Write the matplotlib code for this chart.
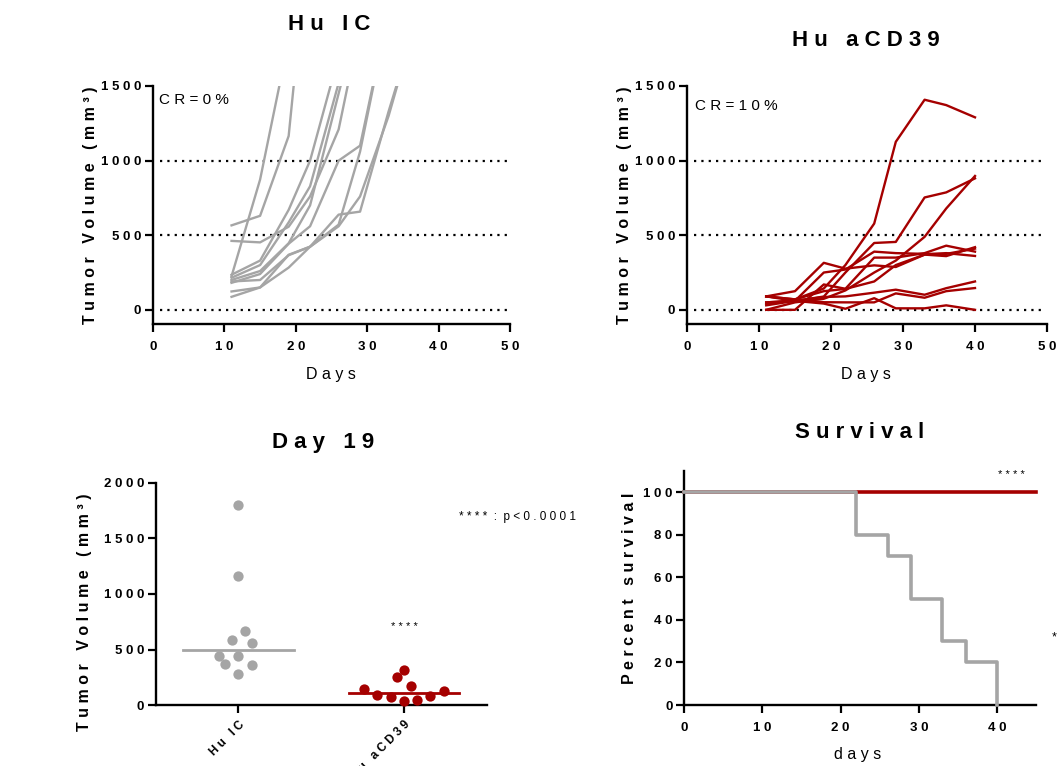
import matplotlib
matplotlib.use('Agg')
import matplotlib.pyplot as plt
from matplotlib.ticker import FixedLocator, FuncFormatter

plt.rcParams['font.family'] = ['Liberation Sans', 'DejaVu Sans']
plt.rcParams['font.weight'] = 'bold'

GRAY = '#a5a5a5'
RED = '#a50000'

W, H = 1059, 766

# ---------------- data ----------------
days = [11, 15, 19, 22, 26, 29, 33, 36, 40]

# Hu IC tumour volumes (mm^3), one list per mouse (curves leave the plot above 1500)
ic_m1 = [566, 630, 1165, 2600]
ic_m2 = [225, 873, 1805]
ic_m3 = [235, 330, 670, 1000, 1700]
ic_m4 = [215, 300, 586, 828, 1520]
ic_m5 = [200, 260, 446, 700, 1450, 2000]
ic_m6 = [462, 452, 557, 760, 1209, 1900]
ic_m7 = [181, 240, 443, 560, 1000, 1100, 2000]
ic_m8 = [123, 150, 369, 423, 571, 1060, 2000]
ic_m9 = [190, 200, 366, 423, 638, 658, 1330, 1800]
ic_m10 = [87, 150, 283, 423, 560, 760, 1300, 1800]
ic_mice = [ic_m1, ic_m2, ic_m3, ic_m4, ic_m5, ic_m6, ic_m7, ic_m8, ic_m9, ic_m10]

# Hu aCD39 tumour volumes (mm^3)
cd_m1 = [40, 70, 143, 300, 578, 1126, 1408, 1372, 1290]
cd_m2 = [30, 60, 89, 250, 448, 455, 753, 787, 881]
cd_m3 = [0, 50, 74, 130, 250, 330, 489, 679, 897]
cd_m4 = [90, 125, 315, 276, 298, 287, 370, 380, 361]
cd_m5 = [50, 60, 250, 270, 390, 380, 375, 375, 410]
cd_m6 = [0, 0, 170, 141, 350, 350, 380, 430, 390]
cd_m7 = [90, 70, 125, 140, 190, 300, 370, 360, 420]
cd_m8 = [50, 60, 86, 90, 115, 135, 101, 145, 190]
cd_m9 = [90, 70, 51, 50, 50, 110, 81, 125, 146]
cd_m10 = [90, 60, 42, 7, 78, 10, 10, 30, 0]
cd_mice = [cd_m1, cd_m2, cd_m3, cd_m4, cd_m5, cd_m6, cd_m7, cd_m8, cd_m9, cd_m10]

# Day 19 scatter
groups = ['Hu IC', 'Hu aCD39']
ic_day19 = [1804, 1164, 670, 586, 557, 446, 443, 369, 366, 283]
ic_jitter = [0, 0, 0.04, -0.04, 0.08, -0.12, 0, -0.08, 0.08, 0]
cd_day19 = [143, 89, 74, 250, 315, 170, 42, 51, 86, 125]
cd_jitter = [-0.24, -0.16, -0.08, -0.04, 0, 0.04, 0, 0.08, 0.16, 0.24]
ic_median = 500
cd_median = 110

# Survival
surv_ic_days = [0, 22, 26, 29, 33, 36, 40]
surv_ic_pct = [100, 80, 70, 50, 30, 20, 0]
surv_cd_days = [0, 45]
surv_cd_pct = [100, 100]

vol_ticks = [0, 500, 1000, 1500]
day_ticks = [0, 10, 20, 30, 40, 50]
d19_ticks = [0, 500, 1000, 1500, 2000]
surv_yticks = [0, 20, 40, 60, 80, 100]
surv_xticks = [0, 10, 20, 30, 40]


def sp(s):
    return ' '.join(s)


def px_axes(fig, x0, x1, y_top, y_bot):
    return fig.add_axes([x0 / W, 1 - y_bot / H, (x1 - x0) / W, (y_bot - y_top) / H])


def ftext(fig, x, y, s, **kw):
    fig.text(x / W, 1 - y / H, s, **kw)


spaced_fmt = FuncFormatter(lambda v, p: sp(str(int(round(v)))))


def style(ax):
    for side in ['top', 'right']:
        ax.spines[side].set_visible(False)
    for side in ['left', 'bottom']:
        ax.spines[side].set_linewidth(1.7)
    ax.tick_params(direction='out', length=5.5, width=1.6, labelsize=9.5, pad=3)
    ax.tick_params(axis='x', pad=7)
    ax.set_facecolor('none')


fig = plt.figure(figsize=(W / 100, H / 100), dpi=100)

# ---------------- top panels ----------------
for (x0, x1, mice, color, cr, crpos, title, tpos, ylab_x, xl_x) in [
        (153, 510, ic_mice, GRAY, 'CR=0%', (159, 100), 'Hu IC', (329, 24), 90, 331),
        (687, 1047, cd_mice, RED, 'CR=10%', (695, 106), 'Hu aCD39', (866, 40), 625, 866)]:
    ax = px_axes(fig, x0, x1, 86, 324)
    style(ax)
    for yv in [0, 500, 1000]:
        ax.axhline(yv, xmin=0.02, xmax=0.995, color='black', lw=1.6,
                   ls=(0, (1, 2.3)), zorder=1)
    for m in mice:
        ax.plot(days[:len(m)], m, color=color, lw=1.7, zorder=2)
    ax.set_xlim(0, 50)
    ax.set_ylim(-95, 1500)
    ax.xaxis.set_major_locator(FixedLocator(day_ticks))
    ax.yaxis.set_major_locator(FixedLocator(vol_ticks))
    ax.xaxis.set_major_formatter(spaced_fmt)
    ax.yaxis.set_major_formatter(spaced_fmt)
    ftext(fig, crpos[0], crpos[1], sp(cr), fontsize=11, fontweight='normal',
          ha='left', va='center')
    ftext(fig, tpos[0], tpos[1], sp(title), fontsize=16, ha='center', va='center')
    ftext(fig, ylab_x, 205, sp('Tumor Volume (mm³)'), fontsize=11.5, rotation=90,
          ha='center', va='center')
    ftext(fig, xl_x, 375, sp('Days'), fontsize=11.5, fontweight='normal',
          ha='center', va='center')

# ---------------- Day 19 scatter ----------------
ax = px_axes(fig, 155.7, 486.7, 482.7, 705.3)
style(ax)
ax.scatter([0 + j for j in ic_jitter], ic_day19, s=55, color=GRAY, zorder=3,
           clip_on=False, linewidths=0)
ax.scatter([1 + j for j in cd_jitter], cd_day19, s=55, color=RED, zorder=3,
           clip_on=False, linewidths=0)
ax.plot([-0.335, 0.335], [ic_median, ic_median], color=GRAY, lw=2, zorder=2)
ax.plot([1 - 0.335, 1 + 0.335], [cd_median, cd_median], color=RED, lw=2, zorder=2)
ax.set_xlim(-0.5, 1.5)
ax.set_ylim(0, 2000)
ax.yaxis.set_major_locator(FixedLocator(d19_ticks))
ax.yaxis.set_major_formatter(spaced_fmt)
ax.set_xticks([0, 1])
ax.set_xticklabels([sp(g) for g in groups], rotation=45, ha='right',
                   rotation_mode='anchor', fontsize=8.5)
ax.tick_params(axis='x', pad=4)
ax.text(1, 700, sp('****'), ha='center', va='center', fontsize=8, fontweight='normal')
ftext(fig, 323, 443, sp('Day 19'), fontsize=16, ha='center', va='center')
ftext(fig, 85, 612, sp('Tumor Volume (mm³)'), fontsize=11.5, rotation=90,
      ha='center', va='center')
ftext(fig, 459, 517, sp('****') + '  :  p < 0 . 0 0 0 1', fontsize=8.5,
      fontweight='normal', ha='left', va='center')

# ---------------- Survival ----------------
ax = px_axes(fig, 684.3, 1036, 471, 705)
style(ax)
ax.plot(surv_cd_days, surv_cd_pct, color=RED, lw=2.6, drawstyle='steps-post',
        zorder=2, clip_on=False)
ax.plot(surv_ic_days, surv_ic_pct, color=GRAY, lw=2.6, drawstyle='steps-post',
        zorder=3, clip_on=False)
ax.set_xlim(0, 45)
ax.set_ylim(0, 110)
ax.xaxis.set_major_locator(FixedLocator(surv_xticks))
ax.yaxis.set_major_locator(FixedLocator(surv_yticks))
ax.xaxis.set_major_formatter(spaced_fmt)
ax.yaxis.set_major_formatter(spaced_fmt)
ax.text(41.9, 108, sp('****'), ha='center', va='center', fontsize=8,
        fontweight='normal', clip_on=False)
ftext(fig, 860, 433, sp('Survival'), fontsize=16, ha='center', va='center')
ftext(fig, 630, 588, sp('Percent survival'), fontsize=11.5, rotation=90,
      ha='center', va='center')
ftext(fig, 858, 754, sp('days'), fontsize=11.5, fontweight='normal',
      ha='center', va='center')
ftext(fig, 1054, 637, '*', fontsize=9, fontweight='normal', ha='center', va='center')

fig.savefig('out.png', dpi=100)
